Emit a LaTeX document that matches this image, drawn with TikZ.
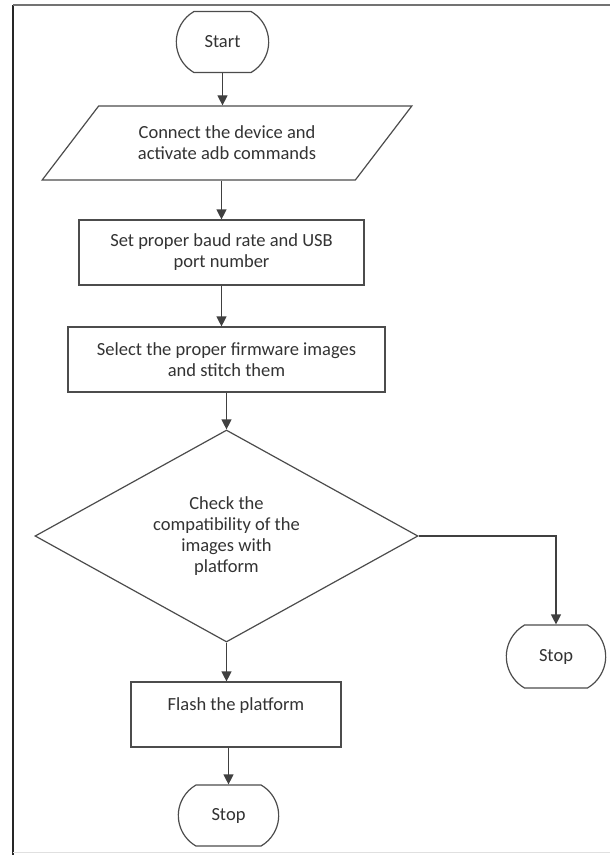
\documentclass[tikz,border=0pt]{standalone}
\usepackage{fontspec}
\setmainfont{Carlito}
\usetikzlibrary{arrows.meta,shapes.geometric,shapes.misc}
\tikzset{
  base/.style={draw=black!70, line width=1.2pt, align=center, text=black!80,
               font=\fontsize{18.5}{21}\selectfont},
  term/.style={base, rounded rectangle, rounded rectangle arc length=120, minimum height=61pt},
  inp/.style={base, trapezium, trapezium left angle=45, trapezium right angle=135,
              trapezium stretches=true, minimum width=370pt, minimum height=74pt},
  proc/.style={base, rectangle, minimum height=65pt},
  dec/.style={base, diamond, aspect=1.8, minimum width=383pt, minimum height=212pt, inner sep=0pt},
  ar/.style={-{Triangle[length=10pt,width=10pt]}, line width=1.2pt, draw=black!75},
}

\begin{document}
\begin{tikzpicture}[x=1pt,y=-1pt]
\useasboundingbox (0,0) rectangle (610,855);
\fill[white] (0,0) rectangle (610,855);
% frame of the page
\draw[line width=2.5pt, black!85] (13,855) -- (13,5);
\draw[line width=1.5pt, black!55] (13,5) -- (610,5);
\draw[line width=1pt, black!12] (13,852) -- (610,852);

\node[term, minimum width=99pt] (start) at (222.5,42) {Start};
\node[inp] (conn) at (227,143) {Connect the device and\\activate adb commands};
\node[proc, minimum width=285pt] (baud) at (221.5,252.5) {Set proper baud rate and USB\\port number};
\node[proc, minimum width=317pt] (fw) at (226.5,359.5) {Select the proper firmware images\\and stitch them};
\node[dec] (chk) at (226.5,536) {Check the\\compatibility of the\\images with\\platform};
\node[proc, minimum width=210pt] (flash) at (236,714.5) {Flash the platform\\\mbox{}};
\node[term, minimum width=107pt] (stop) at (228.5,815.5) {Stop};
\node[term, minimum width=106pt, minimum height=63pt] (stopr) at (556,656.5) {Stop};

\draw[ar] (start.south) -- (start.south |- conn.north);
\draw[ar] (conn.south -| baud.north) -- (baud.north);
\draw[ar] (baud.south) -- (baud.south |- fw.north);
\draw[ar] (fw.south -| chk.north) -- (chk.north);
\draw[ar] (chk.south) -- (chk.south |- flash.north);
\draw[ar] (flash.south -| stop.north) -- (stop.north);
\draw[ar] (chk.east) -| (stopr.north);
\end{tikzpicture}
\end{document}
